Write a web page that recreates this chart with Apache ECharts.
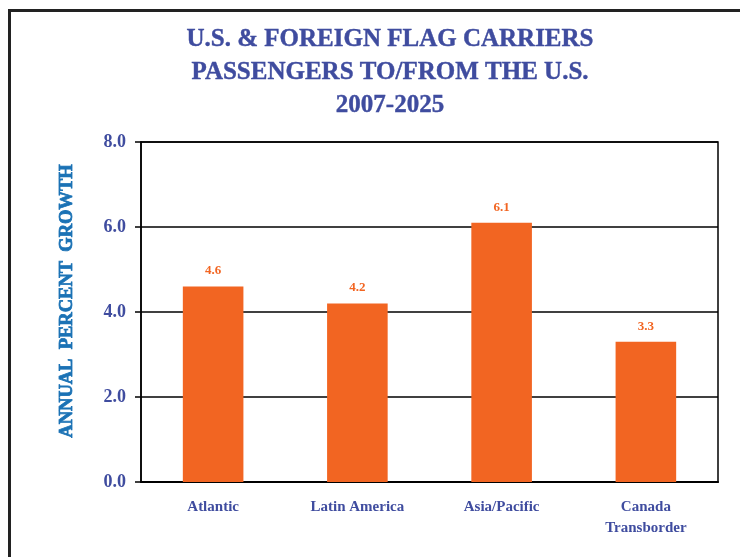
<!DOCTYPE html>
<html><head><meta charset="utf-8">
<script src="https://cdn.jsdelivr.net/npm/echarts@6/dist/echarts.min.js"></script>
<style>html,body{margin:0;padding:0;background:#fff}#c{width:740px;height:557px}</style>
</head><body><div id="c"></div>
<script>
var categories = ['Atlantic', 'Latin America', 'Asia/Pacific', 'Canada\nTransborder'];
var values = [4.6, 4.2, 6.1, 3.3];
var yTicks = [0, 2, 4, 6, 8];
var titleLines = ['U.S. & FOREIGN FLAG CARRIERS', 'PASSENGERS TO/FROM THE U.S.', '2007-2025'];
var yAxisName = 'ANNUAL  PERCENT  GROWTH';

var serif = '"Liberation Serif", "Times New Roman", serif';
var chart = echarts.init(document.getElementById('c'));
chart.setOption({
  animation: false,
  title: {
    text: titleLines.join('\n'),
    left: 385, textAlign: 'center', top: 18,
    textStyle: { fontFamily: serif, fontWeight: 'bold', fontSize: 25, color: '#3f4c9f', lineHeight: 33,
      textBorderColor: '#3f4c9f', textBorderWidth: 0.4 }
  },
  grid: { left: 141, right: 22, top: 142, bottom: 75, show: true, borderColor: '#000', borderWidth: 1.5 },
  xAxis: {
    type: 'category', data: categories,
    axisLine: { lineStyle: { color: '#000', width: 2 } },
    axisTick: { show: false },
    axisLabel: { fontFamily: serif, fontWeight: 'bold', fontSize: 15, color: '#3f4c9f', margin: 15, lineHeight: 21 }
  },
  yAxis: {
    type: 'value', min: 0, max: 8, interval: 2,
    axisLine: { show: true, lineStyle: { color: '#000', width: 1.5 } },
    axisTick: { show: true, inside: false, length: 6, lineStyle: { color: '#000', width: 1.5 } },
    splitLine: { lineStyle: { color: '#000', width: 1.5 } },
    axisLabel: { fontFamily: serif, fontWeight: 'bold', fontSize: 18, color: '#3f4c9f', margin: 15,
      formatter: function (v) { return v.toFixed(1); } }
  },
  series: [{
    type: 'bar', data: values, barWidth: '42%',
    itemStyle: { color: '#f26522' },
    label: { show: true, position: 'top', distance: 9, fontFamily: serif, fontWeight: 'bold', fontSize: 13, color: '#f26522',
      formatter: function (p) { return p.value.toFixed(1); } }
  }],
  graphic: [
    { type: 'line', shape: { x1: 9.5, y1: 10, x2: 9.5, y2: 557 }, style: { stroke: '#222', lineWidth: 3 } },
    { type: 'line', shape: { x1: 8, y1: 10.5, x2: 740, y2: 10.5 }, style: { stroke: '#222', lineWidth: 3 } },
    { type: 'text', x: 67, y: 301, rotation: Math.PI / 2,
      style: { text: yAxisName, fontFamily: serif, fontWeight: 'bold', fontSize: 18.5, fill: '#1b72b5',
        stroke: '#1b72b5', lineWidth: 0.8, align: 'center', verticalAlign: 'middle' } }
  ]
});
</script></body></html>
